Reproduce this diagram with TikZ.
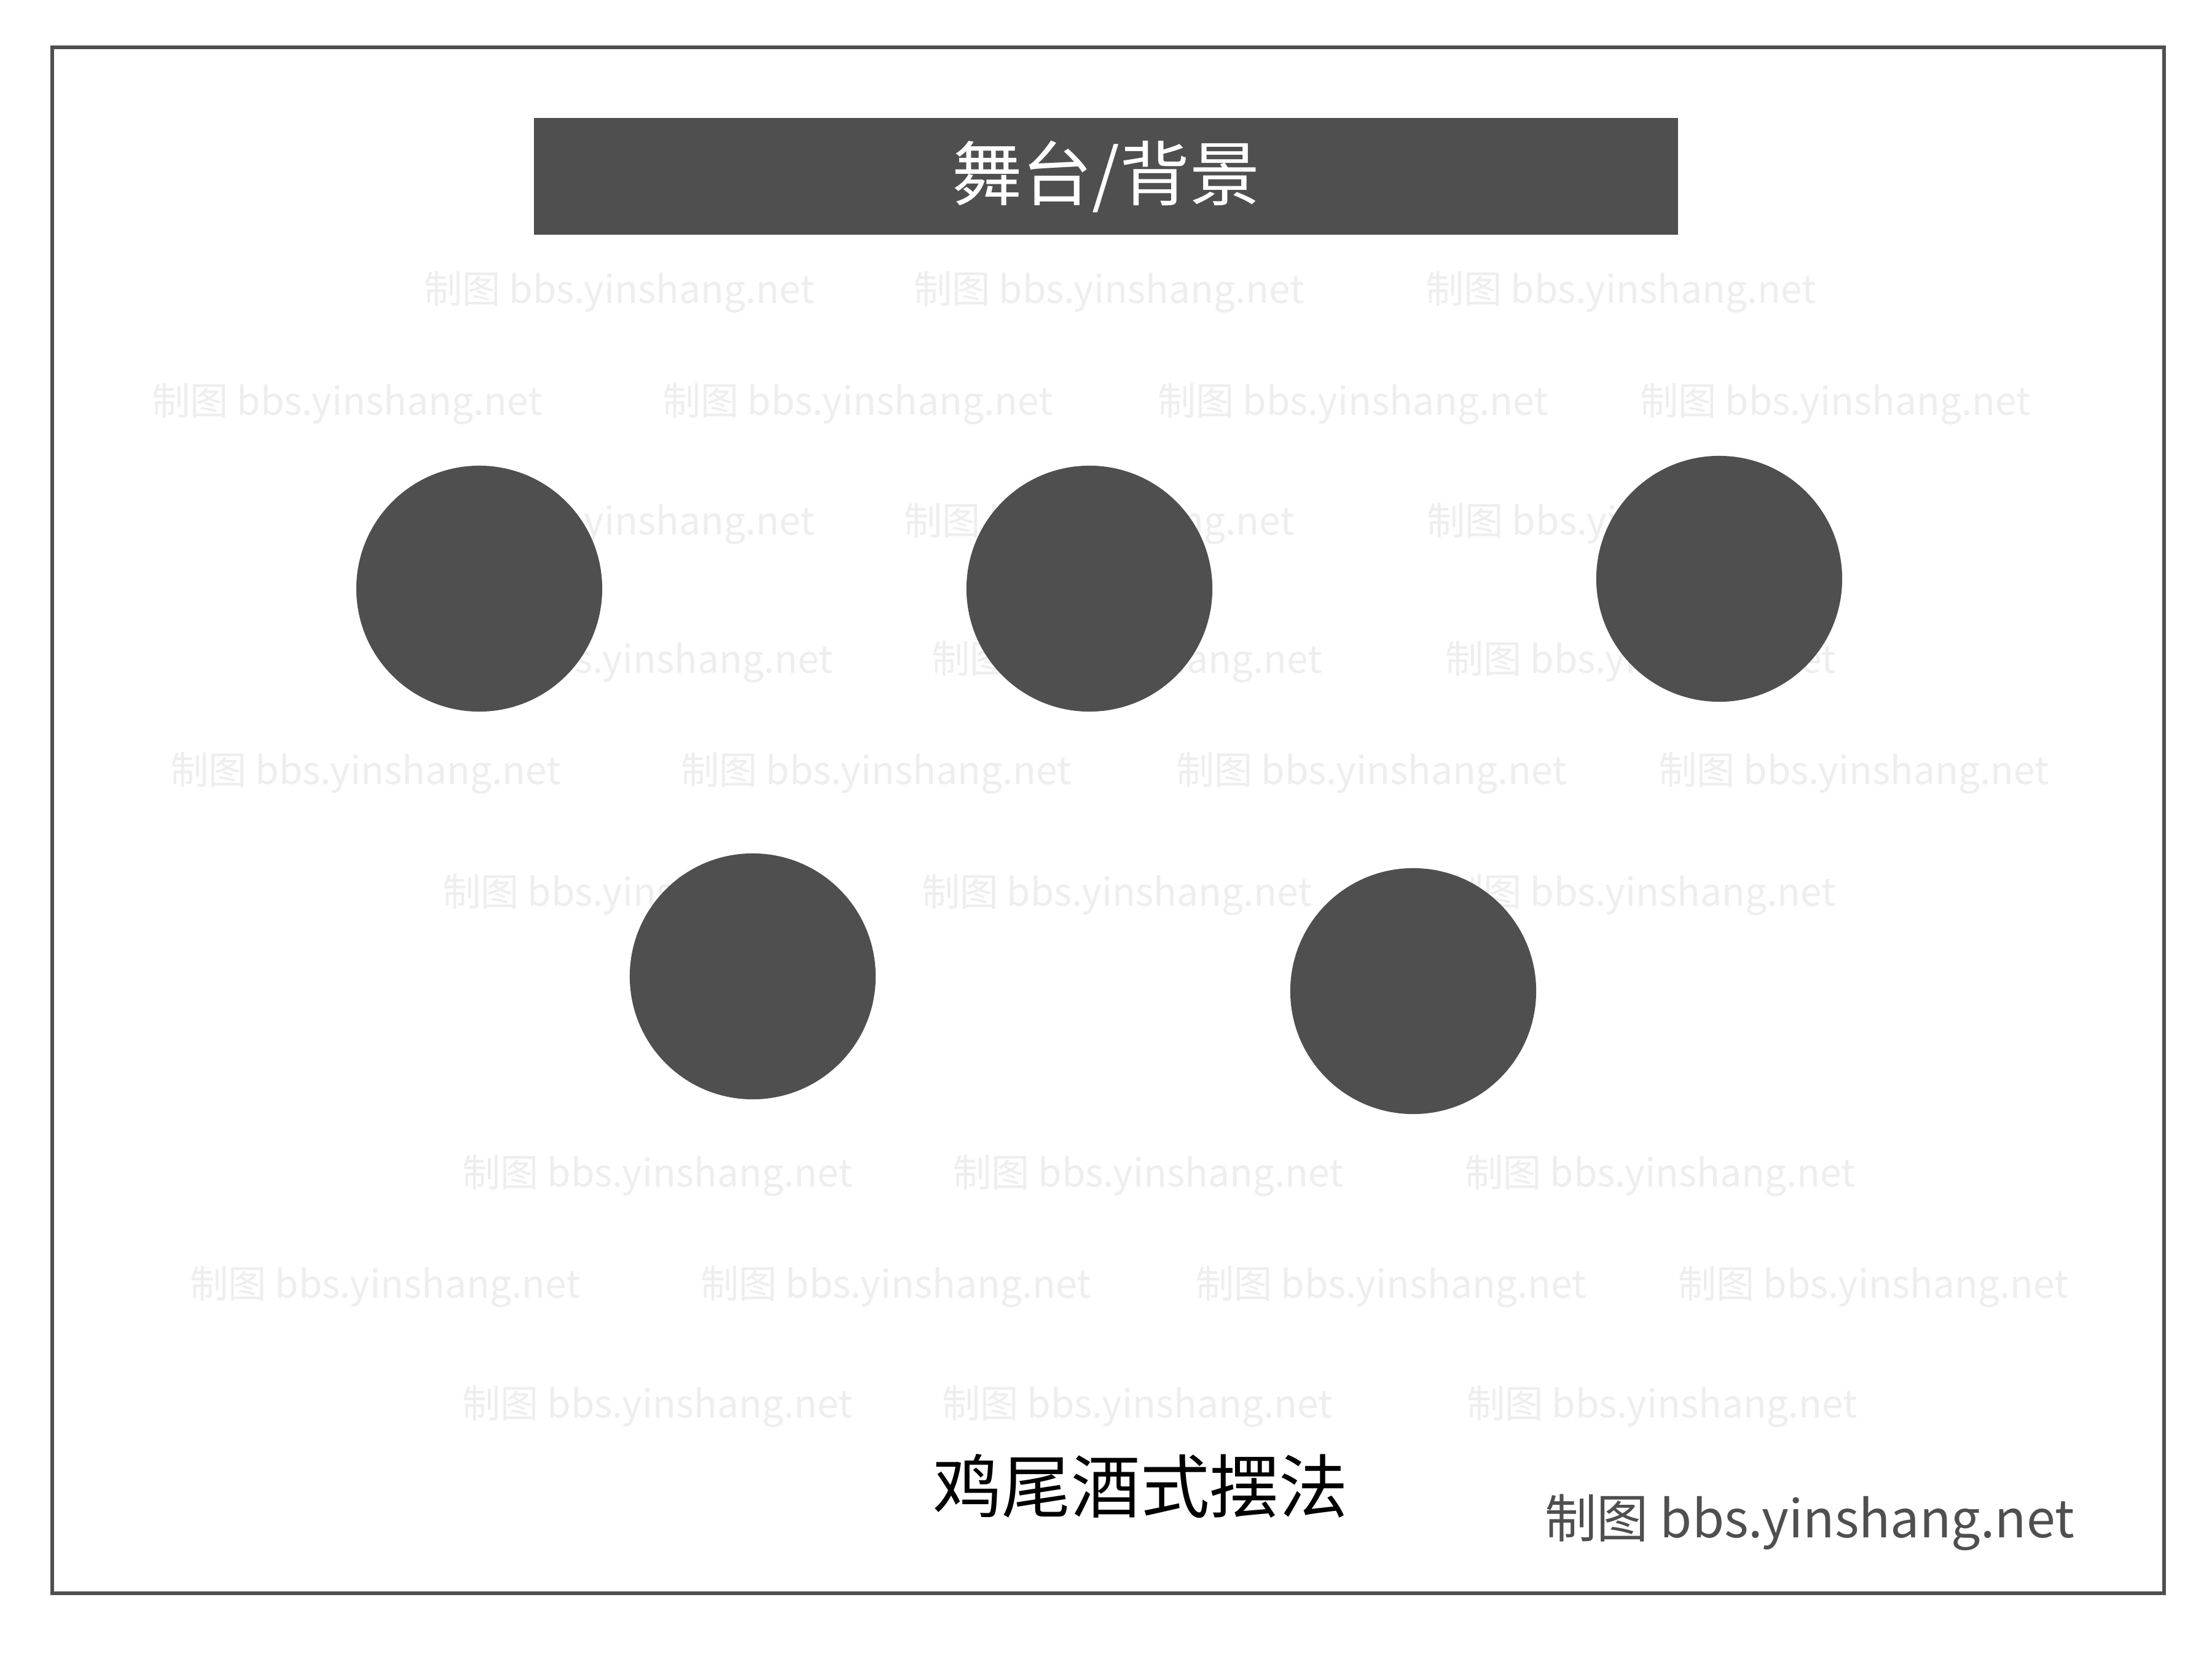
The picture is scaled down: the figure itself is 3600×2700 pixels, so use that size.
\documentclass[tikz,border=0pt]{standalone}
\usepackage{fontspec}
\usepackage{xcolor}
\usepackage{tikz}
\usetikzlibrary{positioning}
\setmainfont{Noto Sans CJK SC}
\definecolor{darkgrey}{RGB}{79,79,79}
\definecolor{paleGrey}{RGB}{238,238,238}

\begin{document}
\begin{tikzpicture}[x=0.01cm,y=-0.01cm,
                    table node/.style={circle,fill=darkgrey,draw=none,minimum size=4cm,inner sep=0pt},
                    stage node/.style={rectangle,fill=darkgrey,draw=none,minimum width=18.6cm,minimum height=1.9cm,
                                       text=white,font=\fontsize{32.5}{36}\selectfont},
                    wmark/.style={text=paleGrey,inner sep=0pt,font=\fontsize{17.7}{21}\selectfont}]

  \useasboundingbox (0,0) rectangle (3600,2700);
  \fill[white] (0,0) rectangle (3600,2700);

  % watermark rows
  \foreach \x/\y in {1008/475,1805/475,2638/475,
                     565/657,1396/657,2202/657,2987/657,
                     1008/852,1789/852,2640/852,
                     1038/1077,1834/1077,2670/1077,
                     595/1258,1426/1258,2232/1258,3017/1258,
                     1038/1456,1818/1456,2670/1456,
                     1070/1913,1869/1913,2702/1913,
                     627/2094,1458/2094,2264/2094,3049/2094,
                     1070/2289,1851/2289,2705/2289}
    \node[wmark] (wm-\x-\y) at (\x,\y) {制图 bbs.yinshang.net};

  \draw[darkgrey,line width=0.065cm] (85,77) rectangle (3522,2593);

  \node[stage node] (stage) at (1800,287) {舞台/背景};

  \node[table node] (1) at (780,958) {};
  \node[table node] (2) at (1773,958) {};
  \node[table node] (3) at (2798,942) {};
  \node[table node] (4) at (1225,1589) {};
  \node[table node] (5) at (2300,1613) {};

  \node[font=\fontsize{32}{36}\selectfont] (caption) at (1856,2419) {鸡尾酒式摆法};
  \node[text=darkgrey,inner sep=0pt,font=\fontsize{24}{28}\selectfont] (site) at (2945,2478) {制图 bbs.yinshang.net};

\end{tikzpicture}
\end{document}
